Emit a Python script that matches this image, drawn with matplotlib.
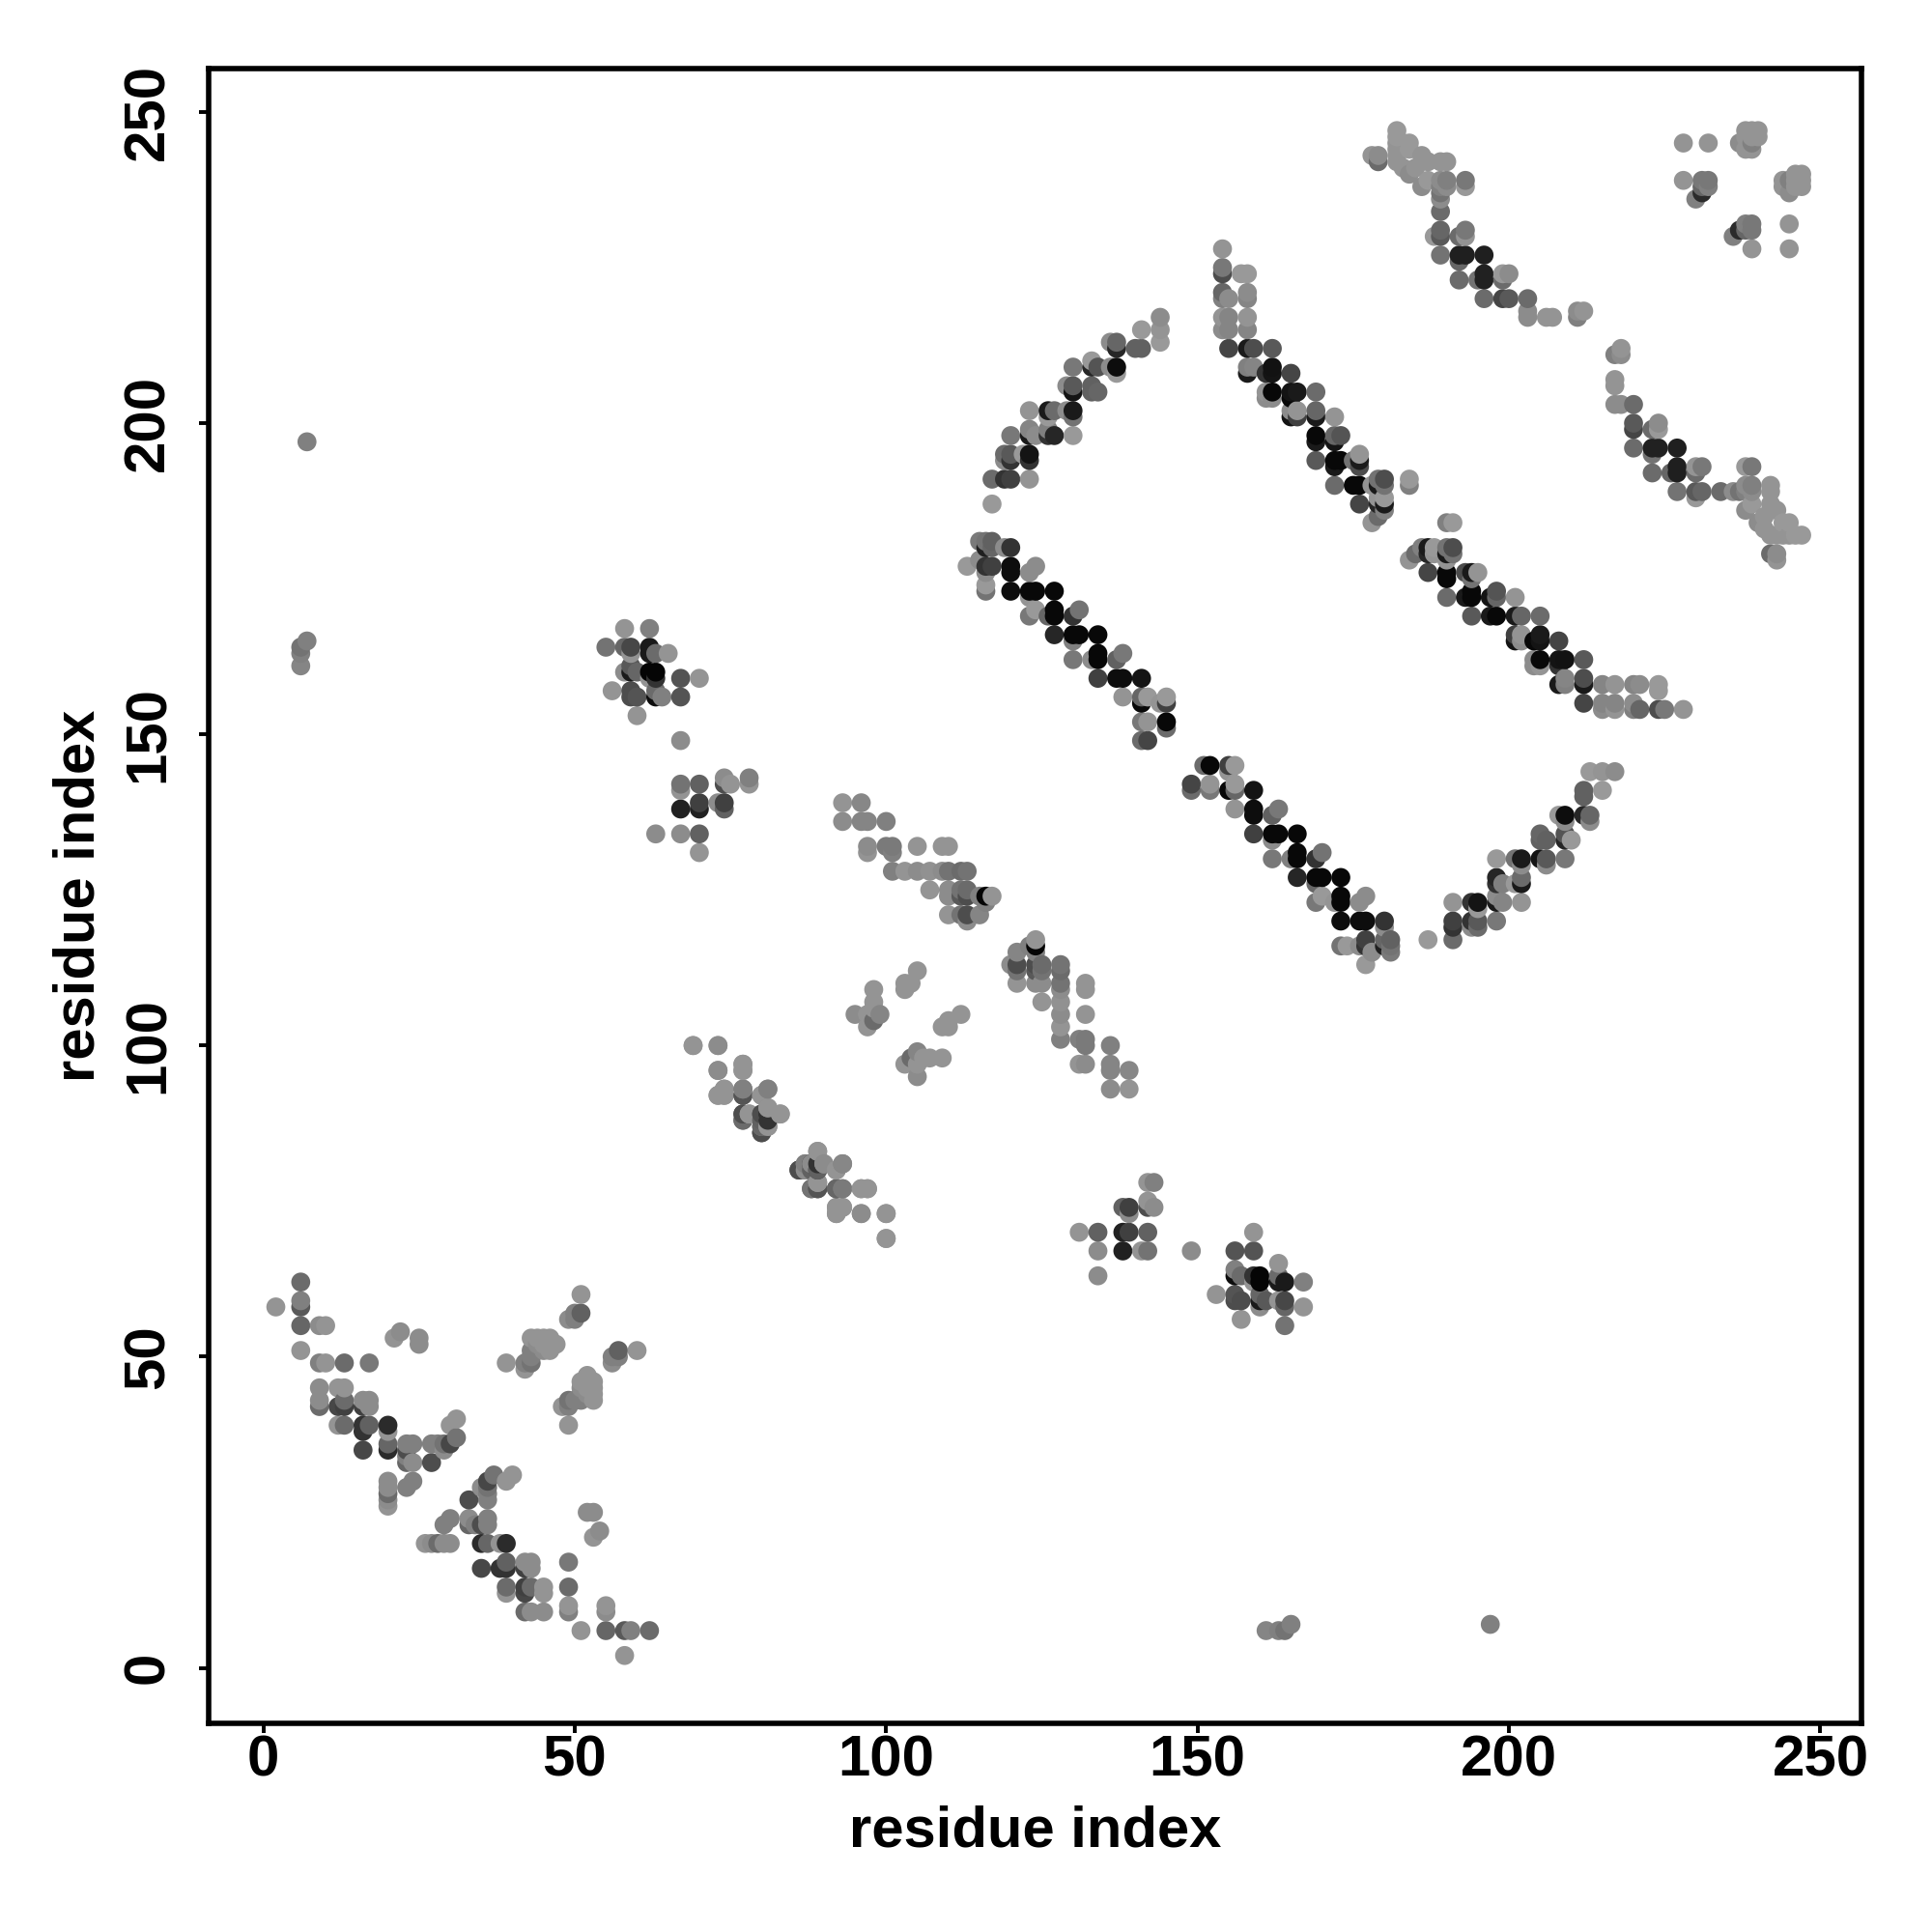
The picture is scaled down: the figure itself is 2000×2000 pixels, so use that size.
import numpy as np
import matplotlib
matplotlib.use("Agg")
import matplotlib.pyplot as plt

# contacts above the diagonal: (residue i, residue j, grey level); the map is symmetric
n_terminal = [
 (6,62,.42),(6,59,.5),(6,58,.35),(2,58,.58),(6,55,.4),(9,55,.55),(10,55,.58),(6,51,.58),(9,49,.5),(10,49,.58),
 (13,49,.42),(17,49,.47),(21,53,.58),(22,54,.55),(25,53,.55),(25,52,.55),(9,45,.55),(9,43,.55),(9,42,.42),
 (12,45,.58),(13,45,.58),(12,42,.28),(13,42,.25),(13,43,.42),(16,43,.55),(17,43,.55),(16,42,.25),(17,42,.55),
 (12,39,.58),(13,39,.42),(16,39,.2),(16,38,.2),(17,39,.38),(20,39,.17),(20,38,.58),(16,35,.28),(20,36,.4),
 (20,35,.17),(23,36,.5),(24,36,.5),(23,33,.4),(23,34,.5),(24,33,.55),(27,33,.3),(27,36,.5),(28,36,.5),(29,35,.55),
 (29,36,.45),(30,36,.28),(31,37,.45),(30,39,.58),(31,40,.58),(20,30,.55),(20,29,.55),(20,28,.42),(20,27,.55),
 (20,26,.58),(23,29,.5),(24,30,.5),(23,35,.3),
]
n_terminal_far = [
 (39,49,.58),(42,48,.58),(42,49,.5),(43,49,.45),(43,50,.5),(43,51,.5),(44,51,.5),(44,52,.55),(43,53,.58),
 (44,53,.58),(45,51,.55),(45,52,.58),(45,53,.58),(46,53,.58),(46,52,.58),(47,52,.58),(46,51,.58),
 (49,56,.55),(50,57,.5),(50,56,.5),(51,57,.38),(51,60,.58),
 (6,161,.52),(6,163,.5),(6,164,.45),(7,165,.5),(7,197,.5),
]
cluster_160 = [
 (58,167,.58),(62,167,.5),(55,164,.45),(58,164,.4),(59,164,.28),(59,163,.58),(62,164,.1),(62,163,.1),(63,163,.42),
 (65,163,.58),(58,160,.55),(59,161,.35),(59,160,.1),(60,160,.4),(62,160,.02),(63,160,.02),(63,159,.2),(62,159,.58),
 (67,159,.33),(70,159,.58),(56,157,.58),(59,157,.3),(59,156,.3),(60,156,.33),(63,157,.42),(63,156,.05),(64,156,.5),
 (67,156,.33),(60,153,.58),(67,149,.55),(67,142,.45),(67,141,.58),(70,142,.38),(74,143,.55),(74,142,.3),(75,142,.58),
 (78,143,.5),(78,142,.58),(67,138,.13),(70,139,.25),(70,138,.13),(73,139,.55),(74,139,.25),(74,138,.38),
 (63,134,.55),(67,134,.55),(70,134,.38),(70,131,.58),
]
strand_130 = [
 (93,139,.58),(96,139,.53),(93,136,.55),(96,136,.52),(97,136,.52),(100,136,.5),(97,132,.55),(97,131,.58),
 (100,132,.48),(101,132,.48),(101,131,.5),(105,132,.58),(109,132,.58),(110,132,.58),
 (101,128,.5),(103,128,.58),(105,128,.55),(107,128,.57),(109,128,.55),(110,128,.45),(112,128,.42),(113,128,.45),
 (107,125,.58),(110,125,.55),(110,124,.55),(112,125,.45),(113,125,.42),(112,124,.35),(113,124,.3),
 (115,124,.5),(116,124,.02),(117,124,.58),(116,123,.5),(110,121,.58),(112,121,.45),(113,121,.3),(113,120,.55),
 (115,121,.52),
]
strand_90 = [
 (69,100,.58),(73,100,.58),(73,96,.55),(77,97,.58),(77,96,.58),(73,92,.58),(74,93,.58),(74,92,.58),(77,93,.48),
 (77,92,.4),(81,93,.53),(80,92,.58),(77,89,.33),(77,88,.45),(78,89,.58),(80,89,.38),(80,88,.38),(80,87,.55),
 (80,86,.3),(81,90,.55),(81,89,.2),(81,88,.55),(81,87,.5),(83,89,.58),
 (89,83,.58),(86,80,.3),(87,81,.58),(87,80,.4),(88,81,.2),(89,80,.3),(90,81,.58),(92,80,.58),(93,81,.5),
 (88,77,.42),(89,78,.58),(89,77,.3),(92,77,.33),(93,77,.5),(96,77,.58),(97,77,.58),(92,74,.58),(92,73,.58),
 (93,74,.58),(96,73,.55),(100,73,.55),(100,69,.58),
 (95,105,.55),(97,105,.58),(98,109,.58),(98,107,.58),(98,106,.58),(97,103,.58),(98,104,.42),(99,105,.52),
 (103,109,.58),(103,110,.58),(104,110,.58),(105,112,.58),
]
arc_200 = [
 (144,217,.55),(144,215,.58),(144,213,.6),(141,215,.6),(140,212,.38),(141,212,.38),(136,213,.55),(137,213,.4),
 (137,212,.15),(133,210,.6),(130,209,.47),(133,209,.15),(134,209,.33),(136,209,.55),(137,209,.05),(137,208,.6),
 (129,206,.55),(130,206,.35),(130,205,.08),(133,206,.38),(133,205,.38),(134,205,.4),(123,202,.58),(126,202,.1),
 (127,202,.42),(129,202,.55),(130,202,.1),(130,201,.45),(126,201,.6),(120,198,.47),(123,199,.52),(123,198,.1),
 (124,198,.55),(126,199,.5),(126,198,.2),(127,198,.15),(130,198,.6),(119,195,.42),(120,195,.35),(119,194,.55),
 (120,194,.2),(122,195,.6),(123,195,.08),(123,194,.2),(117,191,.42),(119,191,.2),(120,191,.25),(123,191,.58),
 (117,187,.6),
]
band_175 = [
 (115,181,.48),(116,181,.45),(117,181,.38),(116,180,.12),(117,180,.4),(119,180,.55),(120,180,.2),(113,177,.6),
 (115,178,.55),(116,177,.2),(117,177,.25),(120,177,.05),(120,176,.05),(116,176,.55),(116,174,.6),(116,173,.45),
 (123,176,.55),(124,177,.55),(120,173,.05),(123,173,.03),(124,173,.03),(127,173,.03),(123,172,.58),(123,169,.47),
 (124,170,.6),(126,169,.4),(127,170,.03),(127,169,.03),(130,169,.2),(131,170,.45),(127,166,.15),(130,166,.03),
 (131,166,.03),(134,166,.03),(130,165,.5),(130,162,.47),(133,162,.55),(134,163,.03),(134,162,.03),(137,162,.38),
 (138,163,.47),(134,159,.25),(137,159,.05),(138,159,.05),(141,159,.08),(138,156,.58),(141,156,.4),(141,155,.03),
 (142,156,.6),(144,155,.58),(145,156,.6),(145,155,.25),(141,152,.47),(142,152,.58),(145,152,.03),(145,151,.42),
 (141,149,.42),(142,149,.27),
]
band_210 = [
 (154,228,.58),(154,225,.47),(154,224,.3),(157,224,.6),(158,224,.6),(154,221,.4),(154,220,.5),(155,220,.55),(158,221,.55),
 (158,220,.52),(154,217,.58),(155,217,.52),(154,215,.55),(155,215,.52),(158,217,.58),(158,215,.52),(155,212,.27),
 (158,212,.1),(159,212,.3),(162,212,.35),(158,209,.5),(159,209,.52),(158,208,.1),(161,208,.2),(162,209,.07),
 (162,208,.08),(165,208,.27),(161,205,.58),(162,205,.03),(162,204,.55),(161,204,.55),(165,205,.08),(166,205,.1),
 (165,204,.03),(169,205,.42),(165,202,.55),(165,201,.08),(166,202,.58),(166,201,.25),(169,202,.4),(169,201,.1),
 (172,201,.58),(169,198,.03),(169,197,.1),(172,198,.4),(172,197,.08),(173,198,.33),(169,194,.35),(172,194,.03),
 (173,194,.03),(172,193,.1),(175,194,.45),(176,195,.58),(176,194,.1),(176,193,.3),(172,190,.42),(175,190,.03),
 (176,190,.03),(176,187,.27),(178,190,.58),(179,191,.45),(180,191,.3),(179,190,.1),(180,190,.45),(179,188,.58),
 (180,188,.6),(180,187,.1),(179,187,.15),(180,186,.5),(179,185,.42),(178,184,.58),(184,191,.6),(184,190,.5),
]
strand_230 = [
 (182,247,.6),(182,246,.6),(182,245,.58),(182,244,.58),(182,243,.58),(182,242,.58),(178,243,.58),(179,243,.55),
 (179,242,.42),(184,245,.6),(184,244,.6),(184,240,.55),(183,241,.58),(185,241,.58),(186,243,.58),(187,242,.58),
 (186,238,.55),(187,239,.6),(189,242,.58),(190,242,.58),(189,239,.55),(190,239,.5),(190,238,.55),(193,239,.47),
 (193,238,.6),(189,238,.5),(189,237,.45),(189,236,.55),(189,234,.42),(188,230,.6),(189,231,.4),(189,230,.35),
 (192,230,.42),(193,231,.47),(193,230,.58),(189,227,.45),(192,227,.12),(193,227,.12),(196,227,.12),(192,226,.4),
 (192,223,.42),(195,223,.45),(196,224,.13),(196,223,.13),(199,224,.6),(200,224,.55),(199,223,.42),(196,220,.42),
 (199,220,.27),(200,220,.35),(203,220,.42),(203,218,.55),(203,217,.55),(206,217,.58),(207,217,.58),(211,217,.5),
 (211,218,.55),(212,218,.58),
]
c_terminal = [
 (228,245,.58),(232,245,.58),(237,245,.55),(238,244,.58),(239,245,.5),(239,244,.58),(238,247,.58),(239,247,.58),
 (240,247,.58),(238,246,.58),(239,246,.58),(240,246,.58),(228,239,.58),(231,239,.47),(232,239,.47),(231,238,.4),
 (232,238,.5),(231,237,.17),(230,236,.5),
]

groups = [n_terminal, n_terminal_far, cluster_160, strand_130, strand_90, arc_200, band_175, band_210, strand_230, c_terminal]
contacts = np.array(sorted({p for g in groups for p in g}), dtype=float)
i_res, j_res, grey = contacts.T

x = np.concatenate([i_res, j_res])
y = np.concatenate([j_res, i_res])
g = np.concatenate([grey, grey])
order = np.lexsort((y, x))

x_ticks = [0, 50, 100, 150, 200, 250]
y_ticks = [0, 50, 100, 150, 200, 250]

plt.rcParams['font.family'] = ['Liberation Sans', 'DejaVu Sans']
plt.rcParams['font.weight'] = 'bold'
fig = plt.figure(figsize=(10, 10), dpi=200)
ax = fig.add_axes([216.3/2000, 1-1784/2000, (1927-216.3)/2000, (1784-71.4)/2000])
ax.scatter(x[order], y[order], s=50, c=[str(v) for v in g[order]], linewidths=0, zorder=2)
ax.set_xlim(-8.74, 256.6)
ax.set_ylim(-8.9, 256.9)
ax.set_xticks(x_ticks)
ax.set_yticks(y_ticks)
for s in ax.spines.values():
    s.set_linewidth(2.0)
ax.tick_params(axis='both', length=3.5, width=1.4, labelsize=21.6)
ax.tick_params(axis='x', pad=0.5)
ax.tick_params(axis='y', pad=9)
for t in ax.get_yticklabels():
    t.set_rotation(90)
    t.set_va('center')
ax.set_xlabel('residue index', fontsize=21.5, fontweight='bold')
ax.set_ylabel('residue index', fontsize=21.5, fontweight='bold')
ax.xaxis.set_label_coords(0.5, -(1896-1784)/(1784-71.4), transform=ax.transAxes)
ax.xaxis.label.set_va('center')
ax.yaxis.set_label_coords(-(216.3-82)/(1927-216.3), 0.5, transform=ax.transAxes)
ax.yaxis.label.set_va('center')
fig.savefig('out.png', dpi=200, facecolor='white')
